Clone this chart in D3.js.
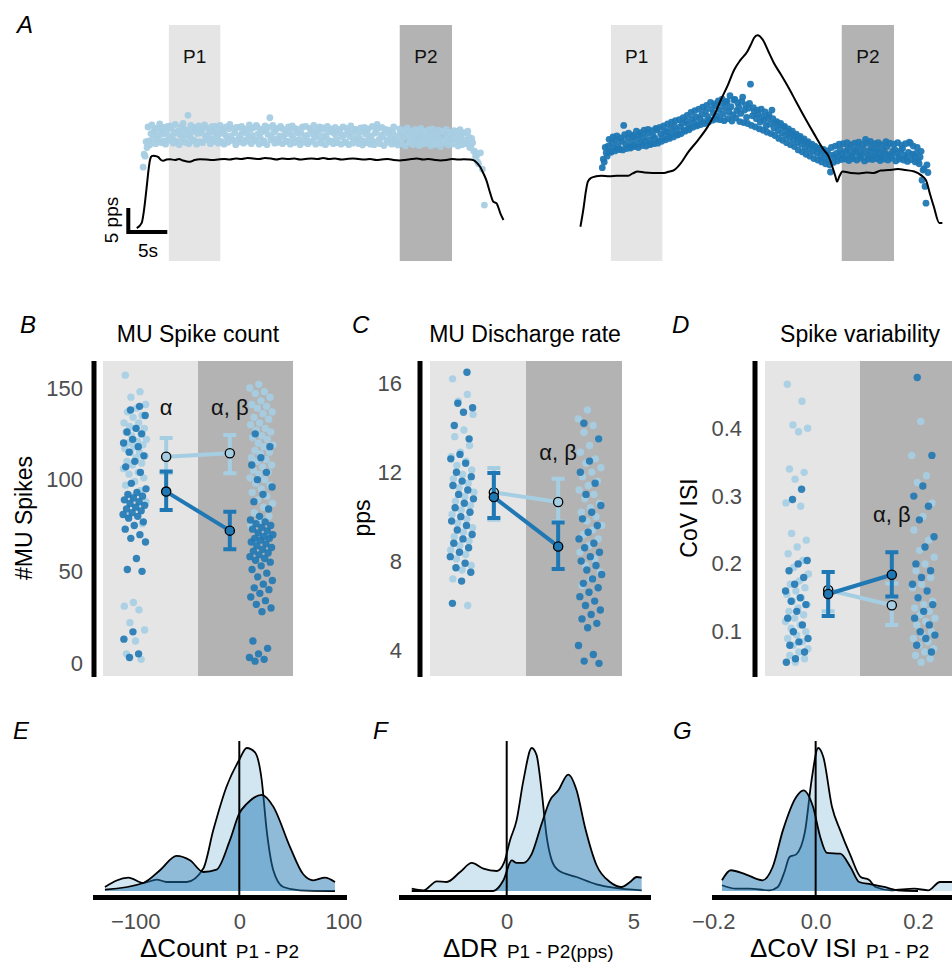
<!DOCTYPE html>
<html>
<head>
<meta charset="utf-8">
<script src="https://cdn.jsdelivr.net/npm/d3@7"></script>
<style>
body { margin: 0; background: #fff; }
svg { display: block; }
</style>
</head>
<body>
<script>
var w = 952;
var h = 966;
var font = "'Liberation Sans', Arial, sans-serif";
var light = "#a6cee3";
var dark = "#1f78b4";
var bandLight = "#e5e5e5";
var bandDark = "#b3b3b3";
var tickGrey = "#4d4d4d";

// ---- panel A : discharge rates (pps) sampled every aStep seconds, force traces
var aStep = 0.25;
var aLeftStart = 0.4;
var aLeftRate = [13.5, 15.8, 17.6, 19.0, 20.5, 19.4, 21.6, 20.1, 19.3, 20.9,
    20.4, 19.0, 21.2, 20.0, 22.1, 19.6, 20.7, 18.9, 21.0, 20.3,
    19.5, 21.4, 20.2, 24.3, 19.8, 20.9, 19.2, 21.3, 20.5, 18.8,
    20.6, 21.7, 19.7, 20.1, 21.0, 19.4, 20.8, 22.0, 19.9, 20.4,
    18.9, 21.1, 20.3, 19.6, 21.5, 20.0, 19.2, 20.7, 21.8, 19.5,
    20.2, 21.0, 19.1, 20.6, 19.8, 21.4, 20.1, 19.3, 22.2, 20.5,
    19.7, 20.9, 19.0, 21.2, 20.3, 23.8, 19.6, 20.8, 21.3, 19.4,
    20.0, 21.6, 19.8, 20.4, 18.9, 21.0, 20.2, 19.5, 21.5, 20.7,
    19.3, 20.6, 21.9, 19.9, 20.1, 18.8, 21.2, 20.4, 19.7, 20.9,
    20.3, 19.2, 21.4, 20.0, 19.6, 20.8, 19.0, 21.1, 20.5, 19.4,
    20.7, 21.3, 19.8, 20.2, 18.7, 21.0, 19.9, 20.6, 19.3, 21.3,
    20.1, 19.5, 20.9, 19.0, 20.4, 21.2, 19.7, 20.0, 18.9, 20.6,
    22.4, 19.3, 20.2, 19.8, 21.0, 19.1, 20.5, 19.6, 20.8, 19.4,
    20.0, 18.8, 20.7, 19.5, 21.1, 19.9, 20.3, 18.9, 19.7, 20.6,
    19.2, 20.4, 18.7, 19.8, 21.0, 19.4, 20.1, 18.9, 19.6, 20.5,
    19.0, 20.2, 19.5, 18.6, 20.8, 19.3, 19.9, 18.8, 20.4, 19.6,
    19.1, 20.3, 18.9, 19.7, 20.6, 19.2, 18.5, 19.8, 17.9, 18.6,
    16.8, 15.9, 14.2, 16.5, 13.1, 5.6];
// second motor-unit train, sampled half a step later
var aLeftStart2 = 0.525;
var aLeftRate2 = [16.2, 18.8, 21.9, 18.2, 22.3, 20.9, 18.4, 21.7, 22.5, 18.6,
    21.8, 18.3, 22.0, 19.1, 21.6, 18.5, 22.4, 20.6, 18.2, 21.9,
    22.6, 18.7, 21.2, 18.4, 22.2, 19.0, 21.8, 18.3, 22.1, 21.5,
    18.6, 22.3, 19.2, 21.7, 18.4, 22.0, 18.9, 21.4, 18.5, 22.2,
    21.1, 18.3, 21.9, 18.7, 22.4, 19.1, 21.6, 18.2, 21.8, 18.8,
    22.0, 18.5, 21.5, 18.9, 22.3, 18.4, 21.7, 19.0, 21.9, 18.3,
    21.4, 18.6, 22.1, 18.2, 21.8, 19.2, 22.2, 18.5, 21.6, 18.7,
    22.0, 18.4, 21.3, 18.9, 21.9, 18.3, 22.1, 18.6, 21.5, 19.0,
    18.2, 21.8, 18.7, 22.0, 18.4, 21.6, 18.9, 22.2, 18.3, 21.4,
    21.9, 18.5, 21.7, 18.2, 22.0, 18.8, 21.5, 18.4, 21.8, 18.6,
    21.3, 18.3, 21.9, 18.7, 21.6, 18.2, 22.1, 18.5, 21.4, 18.9,
    18.4, 21.7, 18.1, 21.8, 18.6, 21.5, 18.3, 22.0, 18.2, 21.3,
    21.6, 18.4, 21.8, 18.0, 21.4, 18.7, 21.2, 18.3, 21.9, 18.5,
    18.1, 21.5, 18.4, 21.2, 17.9, 21.7, 18.6, 21.0, 18.2, 21.4,
    21.1, 18.0, 21.6, 18.3, 20.9, 18.5, 21.3, 17.9, 21.5, 18.2,
    18.4, 21.2, 17.8, 21.0, 18.6, 21.4, 18.1, 20.8, 18.3, 21.1,
    20.9, 17.9, 21.3, 18.2, 20.7, 18.4, 21.0, 17.6, 19.5, 16.9,
    15.8, 14.6];
var aRightStart = 2.6;
var aRightRate = [13.4, 14.6, 16.5, 17.9, 16.8, 18.5, 17.4, 19.2, 18.0, 17.2,
    18.9, 22.2, 18.3, 19.6, 17.7, 18.8, 19.9, 18.1, 19.3, 20.2,
    18.6, 19.7, 18.9, 20.5, 19.2, 18.4, 20.1, 19.5, 21.3, 19.0,
    20.4, 19.6, 21.0, 20.8, 19.9, 21.6, 20.5, 22.0, 21.1, 20.3,
    21.9, 22.6, 21.2, 23.1, 22.4, 21.7, 23.5, 22.8, 24.0, 22.3,
    23.6, 24.5, 23.0, 25.2, 24.1, 23.4, 25.6, 24.8, 26.3, 24.2,
    25.5, 26.8, 24.6, 25.9, 27.2, 25.0, 26.1, 24.4, 27.6, 25.3,
    26.0, 24.7, 28.1, 25.4, 23.9, 25.8, 30.8, 24.2, 25.1, 23.6,
    24.6, 22.9, 24.0, 23.3, 22.1, 23.8, 22.5, 25.4, 21.7, 22.8,
    21.2, 22.3, 20.6, 21.8, 20.1, 21.0, 19.7, 20.5, 19.2, 20.0,
    18.7, 19.6, 18.3, 19.0, 17.6, 18.5, 17.2, 18.1, 16.8, 17.9,
    16.5, 17.3, 15.9, 16.9, 15.4, 16.2, 14.8, 12.5, 16.0, 15.6,
    16.4, 15.8, 17.1, 16.3, 15.5, 16.8, 17.4, 16.1, 15.7, 17.0,
    16.6, 17.5, 15.9, 16.3, 17.2, 19.3, 16.0, 16.9, 17.6, 15.8,
    16.7, 17.3, 16.2, 15.6, 17.0, 16.5, 17.8, 16.1, 15.9, 16.8,
    17.2, 16.4, 15.7, 16.9, 17.4, 16.0, 15.5, 16.6, 18.5, 16.2,
    15.8, 16.4, 14.9, 15.6, 10.8, 13.2, 6.0, 12.4];
var aRightStart2 = 2.725;
var aRightRate2 = [15.2, 17.6, 15.8, 19.3, 16.6, 19.8, 16.9, 20.0, 17.2, 19.6,
    17.1, 20.3, 17.4, 20.6, 17.5, 20.2, 17.8, 21.0, 17.6, 20.7,
    18.0, 21.2, 17.9, 21.4, 18.2, 21.1, 18.4, 21.6, 18.5, 21.8,
    18.9, 22.1, 19.2, 22.5, 19.5, 22.9, 19.8, 23.2, 20.2, 23.4,
    20.5, 23.8, 21.0, 24.3, 21.3, 24.9, 21.8, 25.3, 22.1, 25.6,
    22.4, 26.0, 22.6, 26.4, 22.9, 27.0, 23.3, 26.7, 23.5, 27.3,
    23.4, 27.7, 23.2, 27.1, 23.6, 28.4, 23.1, 27.5, 23.8, 26.9,
    23.0, 27.2, 22.8, 26.5, 22.6, 26.8, 22.2, 25.9, 21.9, 25.4,
    21.5, 25.6, 21.2, 25.0, 20.8, 24.4, 20.5, 23.6, 20.1, 23.0,
    19.5, 22.6, 19.1, 22.0, 18.6, 21.5, 18.2, 21.0, 17.8, 20.4,
    17.1, 19.9, 16.7, 19.4, 16.2, 18.8, 15.8, 18.3, 15.3, 17.7,
    15.0, 17.4, 14.6, 17.2, 14.2, 16.9, 14.0, 17.6, 14.5, 17.9,
    14.8, 18.3, 15.1, 18.4, 15.2, 18.6, 14.9, 18.2, 15.3, 18.5,
    15.0, 18.7, 15.4, 18.3, 14.8, 18.5, 15.2, 18.9, 15.1, 18.4,
    15.3, 18.6, 14.9, 18.2, 15.2, 18.8, 15.0, 18.5, 15.4, 18.3,
    14.8, 18.6, 15.2, 18.1, 15.0, 18.4, 14.7, 18.7, 15.1, 17.9,
    14.6, 17.6, 14.2, 16.8, 12.9, 9.5, 14.0];
var aLeftForceT = [-0.42, 0.22, 0.55, 0.86, 1.1, 1.28, 1.5, 1.7, 2.0, 2.35, 2.7, 3.0, 3.4, 3.85, 4.5, 5.0, 5.5, 6.0, 6.4, 7.0,
    7.7, 8.5, 9.3, 10.0, 10.8, 11.5, 12.3, 13.0, 13.8, 14.5, 15.3, 16.0, 16.8, 17.5, 18.2, 19.0, 19.8, 20.5, 21.2, 22.0,
    22.8, 23.5, 24.2, 25.0, 25.8, 26.5, 27.3, 28.0, 28.8, 29.5, 30.3, 31.0, 31.8, 32.5, 33.3, 34.0, 34.8, 35.5, 36.3, 37.0,
    37.8, 38.5, 39.3, 40.0, 40.8, 41.5, 42.2, 42.7, 43.2, 43.6, 44.0, 44.4, 44.9, 45.3, 45.7, 46.2, 46.6];
var aLeftForceV = [0.8, 1.9, 5.0, 9.4, 13.0, 15.0, 15.8, 15.9, 15.8, 15.6, 15.0, 14.85, 15.1, 15.15, 15.0, 15.2, 14.9, 14.7, 14.65, 15.0,
    15.15, 15.1, 15.0, 15.1, 15.2, 15.1, 15.3, 15.2, 15.4, 15.3, 15.2, 15.4, 15.3, 15.1, 15.3, 15.2, 15.3, 15.1, 15.2, 15.3,
    15.2, 15.4, 15.2, 15.3, 15.1, 15.2, 15.3, 15.2, 15.1, 15.2, 15.0, 15.1, 15.2, 15.0, 14.9, 15.0, 15.2, 15.3, 15.1, 15.2,
    15.0, 14.9, 15.0, 15.2, 15.1, 15.15, 15.1, 15.0, 14.4, 13.6, 12.3, 10.8, 8.1, 6.3, 6.0, 3.9, 2.5];
var aRightForceT = [-0.2, 0.2, 0.5, 0.75, 1.2, 1.8, 2.44, 3.5, 4.5, 5.86, 6.5, 7.14, 8.0, 9.0, 10.5, 11.2, 11.8, 12.6, 13.55, 14.8,
    16.1, 17.0, 17.8, 18.7, 19.5, 20.3, 21.2, 21.7, 22.05, 22.5, 23.2, 23.9, 24.6, 25.5, 26.4, 27.4, 28.5, 29.7, 31.0, 31.6,
    32.1, 32.5, 32.7, 33.0, 33.4, 34.5, 35.5, 36.5, 37.4, 38.3, 39.3, 40.5, 41.5, 42.6, 43.5, 44.1, 44.6, 45.1, 45.8, 46.2];
var aRightForceV = [1.1, 5.0, 8.5, 10.5, 11.3, 11.6, 11.7, 11.6, 11.7, 11.7, 12.2, 12.6, 12.4, 12.3, 12.3, 12.6, 12.9, 14.2, 16.5, 19.0,
    21.9, 24.5, 27.5, 30.6, 33.75, 35.8, 37.6, 39.2, 40.4, 41.0, 40.0, 37.6, 35.2, 32.8, 30.3, 27.3, 24.0, 20.6, 17.1, 15.8,
    13.6, 11.5, 10.5, 11.6, 12.6, 12.3, 12.2, 12.4, 12.3, 12.8, 12.9, 13.1, 12.9, 12.6, 11.8, 10.8, 8.0, 5.3, 1.9, 1.9];
var periodNames = ["P1", "P2"];
var periodStart = [3.7, 33.3];
var periodEnd = [10.3, 40.0];

// ---- panels B-D : per-unit values in P1 / P2 and group summaries
var bP1Light = [157, 148, 145, 141, 139, 137, 135, 134, 131, 131, 129, 128, 128, 126, 125, 124, 122, 121, 120, 119, 118, 117, 115, 115, 113,
    112, 110, 109, 108, 106, 104, 103, 101, 99, 97, 94, 91, 88, 85, 80, 76, 33, 31, 29, 22, 18, 12, 5, 2];
var bP1Dark = [140, 138, 135, 128, 126, 125, 122, 120, 118, 115, 113, 110, 107, 104, 98, 95, 93, 92, 91, 90, 89, 88, 87, 86, 85,
    84, 83, 82, 81, 80, 79, 77, 75, 73, 70, 68, 66, 57, 51, 50, 17, 13, 5, 3];
var bP2Light = [152, 150, 148, 147, 145, 143, 141, 140, 139, 137, 136, 134, 133, 131, 130, 128, 127, 126, 124, 123, 122, 120, 119, 118, 116,
    115, 114, 112, 111, 110, 108, 107, 105, 104, 103, 101, 100, 98, 97, 95, 93, 91, 89, 87, 85, 82, 80, 78, 75, 70, 66];
var bP2Dark = [125, 118, 112, 108, 104, 100, 96, 92, 88, 84, 80, 78, 77, 76, 75, 74, 73, 72, 71, 70, 69, 68, 68, 67, 66,
    65, 64, 63, 62, 61, 60, 59, 58, 57, 56, 55, 53, 51, 49, 47, 45, 43, 41, 40, 38, 36, 34, 32, 30, 28, 12, 8, 5, 3, 2, 1];
var bMeanLight = [112.5, 114.4], bLoLight = [103.6, 103.5], bHiLight = [122.7, 124.4];
var bMeanDark = [93.5, 72.2], bLoDark = [83.5, 62], bHiDark = [104.4, 82.5];

var cP1Light = [16.2, 15.5, 15.2, 14.6, 13.9, 13.6, 13.2, 12.9, 12.7, 12.5, 12.3, 12.1, 11.9, 11.7, 11.5, 11.3, 11.1, 10.9, 10.7, 10.5,
    10.3, 10.1, 9.9, 9.7, 9.5, 9.3, 9.1, 8.9, 8.7, 8.5, 8.3, 8.1, 7.8, 7.6, 7.2, 6.0];
var cP1Dark = [16.5, 15.1, 14.9, 14.7, 14.1, 13.5, 12.8, 12.6, 12.4, 12.0, 11.8, 11.6, 11.4, 11.2, 11.0, 10.8, 10.6, 10.4, 10.2, 10.0,
    9.8, 9.6, 9.4, 9.2, 9.0, 8.8, 8.6, 8.4, 8.2, 7.9, 7.7, 7.5, 7.1, 6.1];
var cP2Light = [14.8, 14.4, 14.1, 13.8, 13.5, 13.2, 12.9, 12.6, 12.4, 12.2, 12.0, 11.8, 11.6, 11.4, 11.2, 11.0, 10.8, 10.6, 10.4, 10.2,
    10.0, 9.8, 9.6, 9.4, 9.2, 9.0, 8.7, 8.4, 8.1, 7.8, 7.5, 7.2, 6.9];
var cP2Dark = [14.2, 13.5, 12.5, 12.0, 11.5, 11.0, 10.5, 10.2, 9.9, 9.6, 9.3, 9.0, 8.8, 8.6, 8.4, 8.2, 8.0, 7.8, 7.6, 7.4,
    7.2, 7.0, 6.8, 6.6, 6.4, 6.2, 6.0, 5.8, 5.6, 5.4, 5.2, 5.0, 4.2, 3.8, 3.5, 3.4];
var cMeanLight = [11.09, 10.66], cLoLight = [9.86, 9.78], cHiLight = [12.19, 11.7];
var cMeanDark = [10.88, 8.66], cLoDark = [9.94, 7.64], cHiDark = [11.96, 9.74];

var dP1Light = [0.465, 0.44, 0.405, 0.40, 0.395, 0.34, 0.335, 0.325, 0.29, 0.285, 0.245, 0.235, 0.225, 0.215, 0.205, 0.195, 0.185, 0.175,
    0.17, 0.165, 0.16, 0.155, 0.15, 0.145, 0.14, 0.135, 0.13, 0.125, 0.12, 0.115, 0.11, 0.105, 0.10, 0.095, 0.09, 0.085, 0.08, 0.075,
    0.07, 0.065, 0.06, 0.055];
var dP1Dark = [0.31, 0.295, 0.205, 0.2, 0.19, 0.18, 0.17, 0.16, 0.15, 0.145, 0.14, 0.13, 0.12, 0.11, 0.10, 0.09, 0.085, 0.08, 0.07,
    0.06, 0.055];
var dP2Light = [0.41, 0.36, 0.33, 0.32, 0.29, 0.27, 0.25, 0.235, 0.22, 0.21, 0.2, 0.19, 0.18, 0.17, 0.165, 0.16, 0.15, 0.145, 0.14,
    0.135, 0.13, 0.125, 0.12, 0.115, 0.11, 0.10, 0.095, 0.09, 0.085, 0.08, 0.075, 0.07, 0.065, 0.06, 0.055];
var dP2Dark = [0.475, 0.36, 0.315, 0.3, 0.285, 0.265, 0.24, 0.225, 0.2, 0.19, 0.18, 0.17, 0.16, 0.15, 0.14, 0.13, 0.12, 0.11, 0.1,
    0.095, 0.09, 0.08, 0.07];
var dMeanLight = [0.1615, 0.139], dLoLight = [0.13, 0.11], dHiLight = [0.188, 0.171];
var dMeanDark = [0.1556, 0.184], dLoDark = [0.123, 0.152], dHiDark = [0.188, 0.217];

// ---- panels E-G : density of P1 - P2 differences (relative height)
var eLightX = [-129.2, -106.7, -92.3, -79.5, -69.9, -50.6, -34.6, -25, -12.2, 0, 7.1, 15.1, 21.5, 26.3, 32.7, 42.3, 58.3, 92];
var eLightY = [0.028, 0.094, 0.056, 0.08, 0.063, 0.063, 0.157, 0.426, 0.731, 0.918, 1.0, 0.97, 0.778, 0.426, 0.145, 0.028, 0.005, 0];
var eDarkX = [-129.2, -92.3, -76.3, -60.3, -47.4, -34.6, -21.8, -9, 0, 7.1, 21.5, 32.7, 48.7, 61.5, 71.2, 82.4, 92];
var eDarkY = [0.009, 0.056, 0.145, 0.246, 0.215, 0.133, 0.15, 0.356, 0.543, 0.609, 0.672, 0.59, 0.309, 0.117, 0.075, 0.094, 0.063];
var fLightX = [-3.75, -3.29, -2.76, -2.37, -1.84, -1.38, -0.92, -0.39, -0.1, 0.13, 0.39, 0.66, 0.99, 1.18, 1.38, 1.58, 1.78, 2.04, 2.76, 3.55, 4.21, 5.33];
var fLightY = [0.016, 0.005, 0.068, 0.063, 0.133, 0.196, 0.156, 0.14, 0.2, 0.354, 0.494, 0.774, 1.0, 0.95, 0.70, 0.378, 0.214, 0.145, 0.098, 0.047, 0.023, 0.005];
var fDarkX = [-3.75, -0.53, -0.13, 0.2, 0.39, 0.66, 0.99, 1.38, 1.71, 2.04, 2.43, 2.76, 3.09, 3.55, 4.08, 4.54, 4.87, 5.13, 5.33];
var fDarkY = [0, 0, 0.075, 0.214, 0.196, 0.196, 0.26, 0.47, 0.634, 0.704, 0.814, 0.704, 0.448, 0.18, 0.063, 0.028, 0.063, 0.098, 0.093];
var gLightX = [-0.183, -0.156, -0.13, -0.09, -0.074, -0.061, -0.051, -0.038, -0.021, -0.008, 0.005, 0.015, 0.032, 0.048, 0.068, 0.088,
    0.104, 0.117, 0.147, 0.193, 0.22, 0.243, 0.27, 0.30];
var gLightY = [0.04, 0.016, 0.016, 0.005, 0.028, 0.133, 0.238, 0.256, 0.413, 0.774, 1.0, 0.937, 0.587, 0.424, 0.249, 0.098,
    0.079, 0.028, 0.005, 0.016, 0.005, 0.063, 0.063, 0.05];
var gDarkX = [-0.183, -0.166, -0.137, -0.104, -0.084, -0.064, -0.038, -0.024, -0.005, 0.009, 0.022, 0.048, 0.068, 0.085, 0.108, 0.134, 0.16, 0.2];
var gDarkY = [0.075, 0.145, 0.117, 0.075, 0.168, 0.424, 0.657, 0.704, 0.587, 0.378, 0.266, 0.261, 0.168, 0.063, 0.047, 0.028, 0.005, 0];

var svg = d3.select("body").append("svg")
    .attr("width", w)
    .attr("height", h)
    .style("font-family", font);

function panelLetter(txt, x, y) {
    svg.append("text").text(txt)
	.attr("x", x).attr("y", y)
	.attr("font-size", "24px")
	.attr("font-style", "italic")
	.attr("fill", "#000");
}

// ================= A =================
var aY = d3.scaleLinear().domain([0, 40]).range([232, 40]);

function tracePanel(x0, trains, forceT, forceV, col) {
    var x = d3.scaleLinear().domain([0, 10]).range([x0, x0 + 78]);
    for (var k = 0; k < 2; k++) {
	svg.append("rect")
	    .attr("x", x(periodStart[k]))
	    .attr("y", 25)
	    .attr("width", x(periodEnd[k]) - x(periodStart[k]))
	    .attr("height", 236)
	    .attr("fill", k == 0 ? bandLight : bandDark);
	svg.append("text").text(periodNames[k])
	    .attr("x", (x(periodStart[k]) + x(periodEnd[k])) / 2)
	    .attr("y", 63)
	    .attr("text-anchor", "middle")
	    .attr("font-size", "19px")
	    .attr("fill", "#111");
    }
    trains.forEach(function(tr) {
	svg.append("g").selectAll("circle")
	    .data(tr.rates)
	    .enter()
	    .append("circle")
	    .attr("cx", function(d, i) { return x(tr.start + i * aStep); })
	    .attr("cy", function(d) { return aY(d); })
	    .attr("r", 3.4)
	    .attr("fill", col)
	    .attr("fill-opacity", 0.95);
    });
    var pts = forceT.map(function(t, i) { return [t, forceV[i]]; });
    svg.append("path")
	.datum(pts)
	.attr("d", d3.line()
	      .x(function(d) { return x(d[0]); })
	      .y(function(d) { return aY(d[1]); })
	      .curve(d3.curveMonotoneX))
	.attr("fill", "none")
	.attr("stroke", "#000")
	.attr("stroke-width", 2);
    return x;
}

var aXLeft = tracePanel(140, [{start: aLeftStart, rates: aLeftRate}, {start: aLeftStart2, rates: aLeftRate2}],
			aLeftForceT, aLeftForceV, light);
tracePanel(582, [{start: aRightStart, rates: aRightRate}, {start: aRightStart2, rates: aRightRate2}],
	   aRightForceT, aRightForceV, dark);

// scale bar 5 pps / 5 s
svg.append("path")
    .attr("d", "M" + aXLeft(-1.5) + "," + aY(5) + "V" + aY(0) + "H" + aXLeft(3.5))
    .attr("fill", "none")
    .attr("stroke", "#000")
    .attr("stroke-width", 4);
svg.append("text").text("5 pps")
    .attr("transform", "translate(118," + aY(2.5) + ") rotate(-90)")
    .attr("text-anchor", "middle")
    .attr("font-size", "19px");
svg.append("text").text("5s")
    .attr("x", 148).attr("y", 257)
    .attr("text-anchor", "middle")
    .attr("font-size", "19px");
panelLetter("A", 17, 33);

// ================= B-D =================
function jitter(i, seed) {
    return ((i * 0.6180339 + seed) % 1) - 0.5;
}

function stripPanel(p) {
    var x = d3.scaleLinear().domain([0, 4]).range([p.x0, p.x1]);
    var y = d3.scaleLinear().domain(p.yDomain).range(p.yRange);
    svg.append("rect").attr("x", x(0)).attr("y", 361)
	.attr("width", x(2) - x(0)).attr("height", 315).attr("fill", bandLight);
    svg.append("rect").attr("x", x(2)).attr("y", 361)
	.attr("width", x(4) - x(2)).attr("height", 315).attr("fill", bandDark);

    var sets = [
	{vals: p.p1Light, pos: 0.67, col: light, seed: 0.1},
	{vals: p.p2Light, pos: 3.33, col: light, seed: 0.4},
	{vals: p.p1Dark, pos: 0.67, col: dark, seed: 0.7},
	{vals: p.p2Dark, pos: 3.33, col: dark, seed: 0.25}
    ];
    sets.forEach(function(s) {
	svg.append("g").selectAll("circle")
	    .data(s.vals)
	    .enter()
	    .append("circle")
	    .attr("cx", function(d, i) { return x(s.pos + jitter(i, s.seed) * 0.5); })
	    .attr("cy", function(d) { return y(d); })
	    .attr("r", 3.7)
	    .attr("fill", s.col)
	    .attr("fill-opacity", 0.9);
    });

    var groups = [
	{m: p.meanLight, lo: p.loLight, hi: p.hiLight, col: light},
	{m: p.meanDark, lo: p.loDark, hi: p.hiDark, col: dark}
    ];
    var mpos = [1.33, 2.67];
    groups.forEach(function(g) {
	for (var k = 0; k < 2; k++) {
	    var cx = x(mpos[k]);
	    svg.append("path")
		.attr("d", "M" + (cx - 6.5) + "," + y(g.hi[k]) + "H" + (cx + 6.5) +
		      "M" + cx + "," + y(g.hi[k]) + "V" + y(g.lo[k]) +
		      "M" + (cx - 6.5) + "," + y(g.lo[k]) + "H" + (cx + 6.5))
		.attr("fill", "none")
		.attr("stroke", g.col)
		.attr("stroke-width", 4);
	}
	svg.append("line")
	    .attr("x1", x(mpos[0])).attr("y1", y(g.m[0]))
	    .attr("x2", x(mpos[1])).attr("y2", y(g.m[1]))
	    .attr("stroke", g.col)
	    .attr("stroke-width", 4);
	svg.append("g").selectAll("circle")
	    .data(g.m)
	    .enter()
	    .append("circle")
	    .attr("cx", function(d, i) { return x(mpos[i]); })
	    .attr("cy", function(d) { return y(d); })
	    .attr("r", 4.6)
	    .attr("fill", g.col)
	    .attr("stroke", "#000")
	    .attr("stroke-width", 1.3);
    });

    p.notes.forEach(function(n) {
	svg.append("text").text(n[1])
	    .attr("x", x(n[0]))
	    .attr("y", y(n[2]))
	    .attr("text-anchor", "middle")
	    .attr("font-size", "22px")
	    .attr("fill", "#111");
    });

    var yAxis = d3.axisLeft(y)
	.tickValues(p.ticks)
	.tickSize(0)
	.tickPadding(p.pad)
	.tickFormat(p.fmt);
    var ag = svg.append("g")
	.attr("transform", "translate(" + p.axisX + ",0)")
	.call(yAxis);
    ag.select(".domain").remove();
    ag.attr("font-size", 22).attr("font-family", font);
    ag.selectAll("text").attr("fill", tickGrey);
    svg.append("line")
	.attr("x1", p.axisX).attr("x2", p.axisX)
	.attr("y1", 361).attr("y2", 677)
	.attr("stroke", "#000")
	.attr("stroke-width", 5);

    svg.append("text").text(p.yTitle)
	.attr("transform", "translate(" + p.yTitleX + ",518) rotate(-90)")
	.attr("text-anchor", "middle")
	.attr("dy", "0.35em")
	.attr("font-size", "23px");
    svg.append("text").text(p.title)
	.attr("x", p.titleX).attr("y", 342)
	.attr("text-anchor", "middle")
	.attr("font-size", "23px");
    panelLetter(p.letter, p.letterX, 333);
}

stripPanel({
    x0: 103, x1: 293, yDomain: [0, 150], yRange: [663, 388],
    p1Light: bP1Light, p1Dark: bP1Dark, p2Light: bP2Light, p2Dark: bP2Dark,
    meanLight: bMeanLight, loLight: bLoLight, hiLight: bHiLight,
    meanDark: bMeanDark, loDark: bLoDark, hiDark: bHiDark,
    notes: [[1.33, "\u03b1", 135.3], [2.67, "\u03b1, \u03b2", 135.3]],
    ticks: [0, 50, 100, 150], fmt: d3.format("d"), pad: 11, axisX: 94,
    yTitle: "#MU Spikes", yTitleX: 24,
    title: "MU Spike count", titleX: 198, letter: "B", letterX: 20
});

stripPanel({
    x0: 430, x1: 622, yDomain: [4, 16], yRange: [650, 383.3],
    p1Light: cP1Light, p1Dark: cP1Dark, p2Light: cP2Light, p2Dark: cP2Dark,
    meanLight: cMeanLight, loLight: cLoLight, hiLight: cHiLight,
    meanDark: cMeanDark, loDark: cLoDark, hiDark: cHiDark,
    notes: [[2.67, "\u03b1, \u03b2", 12.56]],
    ticks: [4, 8, 12, 16], fmt: d3.format("d"), pad: 18, axisX: 420,
    yTitle: "pps", yTitleX: 362,
    title: "MU Discharge rate", titleX: 525, letter: "C", letterX: 352
});

stripPanel({
    x0: 765, x1: 955, yDomain: [0.1, 0.4], yRange: [631.7, 428.3],
    p1Light: dP1Light, p1Dark: dP1Dark, p2Light: dP2Light, p2Dark: dP2Dark,
    meanLight: dMeanLight, loLight: dLoLight, hiLight: dHiLight,
    meanDark: dMeanDark, loDark: dLoDark, hiDark: dHiDark,
    notes: [[2.67, "\u03b1, \u03b2", 0.262]],
    ticks: [0.1, 0.2, 0.3, 0.4], fmt: d3.format(".1f"), pad: 13, axisX: 755,
    yTitle: "CoV ISI", yTitleX: 689,
    title: "Spike variability", titleX: 860, letter: "D", letterX: 672
});

// ================= E-G =================
function densityPanel(p) {
    var x = d3.scaleLinear().domain(p.xDomain).range(p.xRange);
    var y = d3.scaleLinear().domain([0, 1]).range([891, 748]);
    var curves = [
	{xs: p.lightX, ys: p.lightY, col: light},
	{xs: p.darkX, ys: p.darkY, col: dark}
    ];
    curves.forEach(function(c) {
	var pts = c.xs.map(function(v, i) { return [v, c.ys[i]]; });
	svg.append("path")
	    .datum(pts)
	    .attr("d", d3.area()
		  .x(function(d) { return x(d[0]); })
		  .y0(y(0))
		  .y1(function(d) { return y(d[1]); })
		  .curve(d3.curveMonotoneX))
	    .attr("fill", c.col)
	    .attr("fill-opacity", 0.5);
	svg.append("path")
	    .datum(pts)
	    .attr("d", d3.line()
		  .x(function(d) { return x(d[0]); })
		  .y(function(d) { return y(d[1]); })
		  .curve(d3.curveMonotoneX))
	    .attr("fill", "none")
	    .attr("stroke", "#000")
	    .attr("stroke-width", 1.8);
    });

    svg.append("line")
	.attr("x1", x(0)).attr("x2", x(0))
	.attr("y1", 741).attr("y2", 897)
	.attr("stroke", "#000")
	.attr("stroke-width", 2);
    svg.append("line")
	.attr("x1", p.axisFrom).attr("x2", p.axisTo)
	.attr("y1", 897.5).attr("y2", 897.5)
	.attr("stroke", "#000")
	.attr("stroke-width", 5);

    var xAxis = d3.axisBottom(x)
	.tickValues(p.ticks)
	.tickSize(0)
	.tickPadding(15)
	.tickFormat(p.fmt);
    var ag = svg.append("g")
	.attr("transform", "translate(0,898)")
	.call(xAxis);
    ag.select(".domain").remove();
    ag.attr("font-size", 22).attr("font-family", font);
    ag.selectAll("text").attr("fill", tickGrey);

    var t = svg.append("text")
	.attr("x", p.titleX).attr("y", 957)
	.attr("font-size", "26px");
    t.append("tspan").text(p.title);
    t.append("tspan").text(p.sub)
	.attr("dx", 9).attr("dy", 1)
	.attr("font-size", "19px");
    panelLetter(p.letter, p.letterX, 739);
}

densityPanel({
    xDomain: [-100, 100], xRange: [135.3, 343.3],
    lightX: eLightX, lightY: eLightY, darkX: eDarkX, darkY: eDarkY,
    axisFrom: 93, axisTo: 347, ticks: [-100, 0, 100], fmt: d3.format("d"),
    title: "\u0394Count", sub: "P1 - P2", titleX: 140, letter: "E", letterX: 13
});

densityPanel({
    xDomain: [0, 5], xRange: [506.7, 633.3],
    lightX: fLightX, lightY: fLightY, darkX: fDarkX, darkY: fDarkY,
    axisFrom: 399, axisTo: 651, ticks: [0, 5], fmt: d3.format("d"),
    title: "\u0394DR", sub: "P1 - P2(pps)", titleX: 443, letter: "F", letterX: 373
});

densityPanel({
    xDomain: [-0.2, 0.2], xRange: [713.3, 918],
    lightX: gLightX, lightY: gLightY, darkX: gDarkX, darkY: gDarkY,
    axisFrom: 712, axisTo: 952, ticks: [-0.2, 0, 0.2], fmt: d3.format(".1f"),
    title: "\u0394CoV ISI", sub: "P1 - P2", titleX: 750, letter: "G", letterX: 673
});
</script>
</body>
</html>
